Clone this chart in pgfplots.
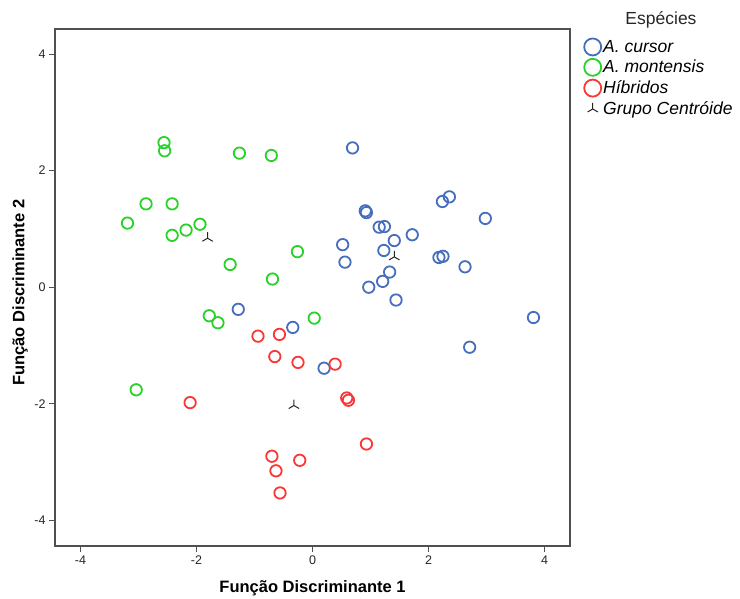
\documentclass[border=0pt]{standalone}
\usepackage{fontspec}
\setmainfont{Liberation Sans}
\usepackage{pgfplots}
\pgfplotsset{compat=1.18}
\definecolor{cblue}{RGB}{70,110,190}
\definecolor{cgreen}{RGB}{40,210,40}
\definecolor{cred}{RGB}{250,55,55}
\definecolor{axgray}{RGB}{80,80,80}
\begin{document}
\begin{tikzpicture}
\useasboundingbox (-55pt,-53pt) rectangle (685pt,546pt);
\begin{axis}[
  at={(0,0)}, anchor=south west,
  scale only axis, width=515pt, height=517pt,
  xmin=-4.44, xmax=4.44, ymin=-4.44, ymax=4.43,
  xtick={-4,-2,0,2,4}, ytick={-4,-2,0,2,4},
  axis line style={axgray, line width=1.3pt},
  tick style={axgray, line width=1pt},
  tick align=outside, major tick length=6pt,
  xtick pos=bottom, ytick pos=left,
  /pgf/number format/assume math mode=true,
  ticklabel style={font=\fontsize{12.5}{14}\selectfont, text=black!85},
  xlabel={\textbf{Função Discriminante 1}},
  ylabel={\textbf{Função Discriminante 2}},
  label style={font=\fontsize{16.5}{19}\selectfont},
  xlabel style={at={(axis description cs:0.5,0)}, anchor=center, yshift=-42pt},
  ylabel style={at={(axis description cs:0,0.49)}, anchor=center, yshift=35pt},
  legend style={at={(rel axis cs:1,1)}, anchor=north west, xshift=13pt, yshift=-8pt,
    draw=none, fill=none, font=\fontsize{17.5}{20}\selectfont\itshape,
    row sep=2.5pt, inner sep=1pt},
  legend cell align=left,
  legend image code/.code={\draw[#1] plot coordinates {(0.1cm,0cm)};},
  clip=false,
]
\addplot[only marks, mark=o, mark size=5.7pt, mark options={cblue, line width=1.8pt},
  legend image post style={mark size=8.5pt}] coordinates {
(0.69,2.39) (0.91,1.31) (0.93,1.28) (2.24,1.47) (2.36,1.55) (2.98,1.18)
(1.15,1.03) (1.24,1.04) (1.72,0.90) (1.41,0.80) (0.52,0.73) (1.23,0.63)
(0.56,0.43) (2.18,0.51) (2.25,0.53) (2.63,0.35) (1.33,0.26) (1.21,0.10)
(0.97,0.00) (1.44,-0.22) (3.81,-0.52) (2.71,-1.03) (0.20,-1.39)
(-1.28,-0.38) (-0.34,-0.69)
};
\addlegendentry{A. cursor}
\addplot[only marks, mark=o, mark size=5.7pt, mark options={cgreen, line width=1.8pt},
  legend image post style={mark size=8.5pt}] coordinates {
(-2.56,2.48) (-2.55,2.34) (-1.26,2.30) (-0.71,2.26) (-2.87,1.43) (-2.42,1.43)
(-3.19,1.10) (-1.94,1.08) (-2.18,0.98) (-2.42,0.89) (-0.26,0.61) (-1.42,0.39)
(-0.69,0.14) (-1.78,-0.49) (-1.63,-0.61) (0.03,-0.53) (-3.04,-1.76)
};
\addlegendentry{A. montensis}
\addplot[only marks, mark=o, mark size=5.7pt, mark options={cred, line width=1.8pt},
  legend image post style={mark size=8.5pt}] coordinates {
(-0.94,-0.84) (-0.57,-0.81) (-0.65,-1.19) (-0.25,-1.29) (0.39,-1.32)
(-2.11,-1.98) (0.59,-1.90) (0.62,-1.94) (0.93,-2.69) (-0.70,-2.90)
(-0.22,-2.97) (-0.63,-3.15) (-0.56,-3.53)
};
\addlegendentry{Híbridos}
\addplot[only marks, mark=Mercedes star, mark size=6pt, mark options={black!85, line width=1pt}]
  coordinates { (1.41,0.52) (-1.81,0.84) (-0.32,-2.03) };
\addlegendentry{Grupo Centróide}
\node[font=\fontsize{17.5}{20}\selectfont, text=black!85, anchor=center]
  at ([xshift=91pt,yshift=-12pt]rel axis cs:1,1.04) {Espécies};
\end{axis}
\end{tikzpicture}
\end{document}
